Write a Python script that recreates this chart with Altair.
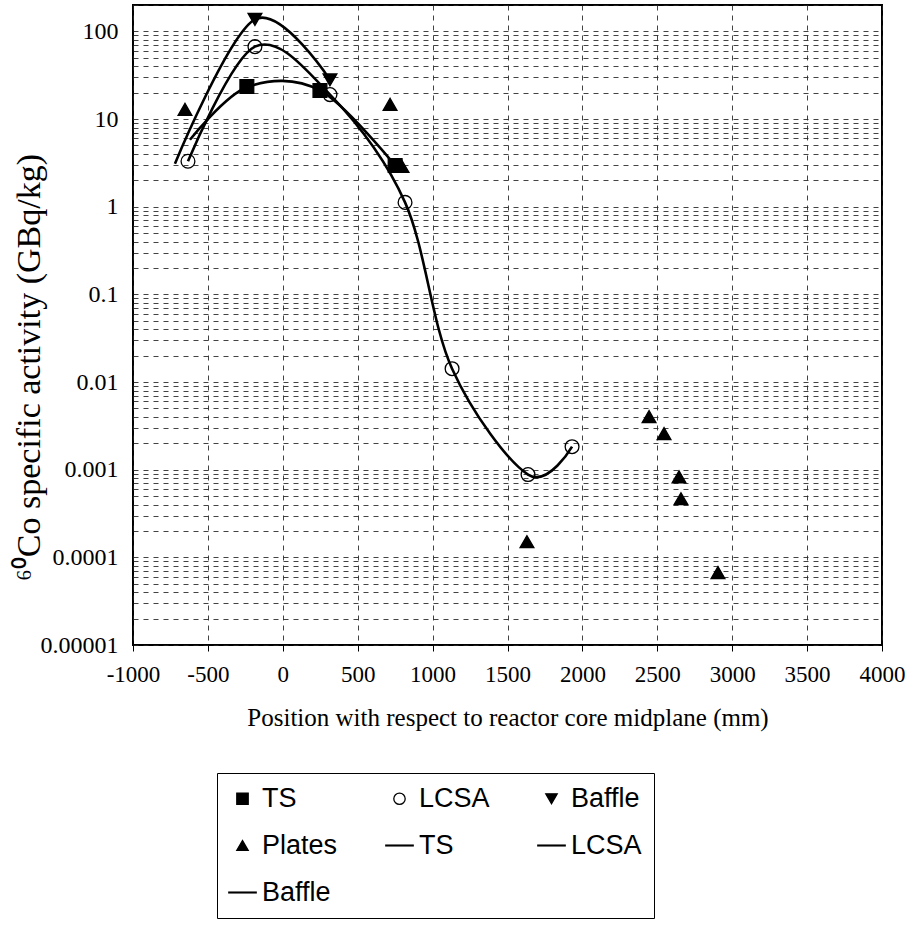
import altair as alt
import pandas as pd

# ---- data (x in mm, y in GBq/kg) ----
ts_x = [-240, 248, 750]
ts_y = [23.5, 21.2, 2.95]
lcsa_x = [-633, -186, 315, 816, 1130, 1637, 1931]
lcsa_y = [3.3, 67, 19, 1.12, 0.0142, 0.00088, 0.00183]
baffle_x = [-186, 315]
baffle_y = [137, 28]
plates_x = [-653, 716, 796, 1630, 2445, 2545, 2645, 2658, 2905]
plates_y = [12.9, 14.7, 2.88, 0.000151, 0.00403, 0.00258, 0.00083, 0.000467, 0.000067]

# smoothed curve series
ts_line_x = [-620, -240, 248, 750]
ts_line_y = [5.8, 23.0, 21.2, 2.95]
lcsa_line_x = [-633, -186, 315, 816, 1130, 1637, 1931]
lcsa_line_y = [3.3, 67, 19, 1.12, 0.0142, 0.00088, 0.00183]
baffle_line_x = [-720, -186, 315]
baffle_line_y = [3.1, 137, 28]

legend_keys = ["TS", "LCSA", "Baffle", "Plates", "TS line", "LCSA line", "Baffle line"]
line_path = "M-2.4,-0.07H2.4V0.07H-2.4Z"
legend_shapes = ["square", "circle", "triangle-down", "triangle-up", line_path, line_path, line_path]
legend_fills = ["black", "transparent", "black", "black", "black", "black", "black"]
legend_strokes = ["black"] * 7

x_ticks = list(range(-1000, 4001, 500))
y_grid = [k * 10.0 ** e for e in range(-5, 3) for k in range(1, 10) if k * 10.0 ** e <= 200]

# ---- tables ----
pts = []
for name, xs, ys in [("TS", ts_x, ts_y), ("LCSA", lcsa_x, lcsa_y),
                     ("Baffle", baffle_x, baffle_y), ("Plates", plates_x, plates_y)]:
    for xv, yv in zip(xs, ys):
        pts.append({"x": xv, "y": yv, "key": name})
pts_df = pd.DataFrame(pts)

lns = []
for name, xs, ys in [("TS line", ts_line_x, ts_line_y), ("LCSA line", lcsa_line_x, lcsa_line_y),
                     ("Baffle line", baffle_line_x, baffle_line_y)]:
    for i, (xv, yv) in enumerate(zip(xs, ys)):
        lns.append({"x": xv, "y": yv, "series": name, "i": i})
lns_df = pd.DataFrame(lns)

X = alt.X("x:Q", scale=alt.Scale(domain=[-1000, 4000], nice=False, zero=False),
          axis=alt.Axis(values=x_ticks, labelExpr="'' + datum.value", labelFlush=False,
                        labelOverlap=False, labelFontSize=23, labelPadding=12,
                        title="Position with respect to reactor core midplane (mm)",
                        titlePadding=19, titleFontSize=25))
Y = alt.Y("y:Q", scale=alt.Scale(type="log", domain=[0.00001, 200], nice=False),
          axis=alt.Axis(values=y_grid, ticks=False, labelPadding=15, labelFlush=False,
                        labelOverlap=False, labelFontSize=24,
                        labelExpr="abs(log(datum.value)/LN10 - round(log(datum.value)/LN10)) < 0.001 ? format(datum.value, '~f') : ''",
                        title="⁶⁰Co specific activity (GBq/kg)",
                        titleX=-104, titleY=362, titleAngle=-90, titleFontSize=34,
                        titleAlign="center", titleBaseline="middle"))

leg = alt.Legend(orient="none", legendX=84, legendY=768, columns=3, direction="horizontal",
                 values=legend_keys, title=None,
                 labelFont="Liberation Sans", labelFontSize=27, labelColor="black",
                 labelExpr="replace(datum.label, ' line', '')",
                 strokeColor="black", padding=12, rowPadding=19, columnPadding=45,
                 symbolSize=130,
                 labelOffset=6, labelLimit=300)

lines = alt.Chart(lns_df).mark_line(interpolate="cardinal", color="black", strokeWidth=2.6).encode(
    x=X, y=Y, detail="series:N", order="i:Q")

points = alt.Chart(pts_df).mark_point(filled=True, opacity=1, size=190).encode(
    x=X, y=Y,
    shape=alt.Shape("key:N", scale=alt.Scale(domain=legend_keys, range=legend_shapes), legend=leg),
    fill=alt.Fill("key:N", scale=alt.Scale(domain=legend_keys, range=legend_fills), legend=leg),
    stroke=alt.Stroke("key:N", scale=alt.Scale(domain=legend_keys, range=legend_strokes), legend=leg),
)

chart = alt.layer(lines, points).properties(
    width=749, height=640,
    autosize=alt.AutoSizeParams(type="none"),
    padding={"left": 133, "top": 5, "right": 29, "bottom": 294},
    background="white",
).configure_view(
    stroke="black", strokeWidth=2
).configure_point(
    strokeWidth=1.3
).configure_axis(
    domain=False,
    grid=True, gridColor="#222222", gridDash=[5, 5], gridWidth=1, gridOpacity=0.85,
    labelFont="Liberation Serif", labelColor="black",
    titleFont="Liberation Serif", titleFontWeight="normal", titleColor="black",
    tickColor="black", tickSize=6,
)

chart.save("out.html", embed_options={"renderer": "svg", "actions": False})
